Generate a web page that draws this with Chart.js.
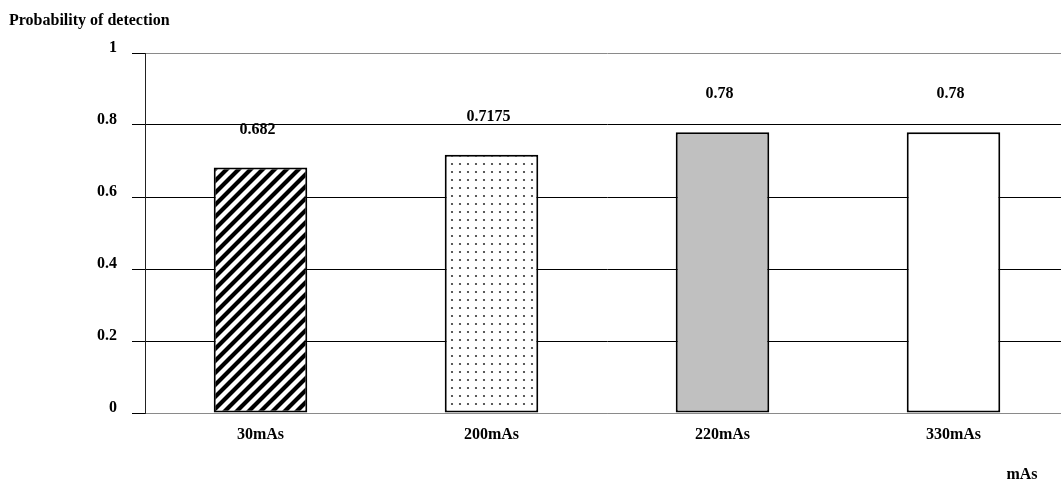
<!DOCTYPE html>
<html>
<head>
<meta charset="utf-8">
<script src="https://cdn.jsdelivr.net/npm/chart.js@4.4.1/dist/chart.umd.min.js"></script>
<style>
  html, body { margin: 0; padding: 0; background: #fff; overflow: hidden; }
  #wrap { width: 1070px; height: 483px; position: relative; }
</style>
</head>
<body>
<div id="wrap"><canvas id="c"></canvas></div>
<script>
// Detection probability per tube current-time product
const categories = ['30mAs', '200mAs', '220mAs', '330mAs'];
const detection = [0.682, 0.7175, 0.78, 0.78];
const valueLabels = ['0.682', '0.7175', '0.78', '0.78'];
const yTicks = [0, 0.2, 0.4, 0.6, 0.8, 1];
const yTitle = 'Probability of detection';
const xTitle = 'mAs';

const FONT = "'Liberation Serif', 'Times New Roman', serif";

// Diagonal "/" hatch fill
function hatchPattern() {
  const s = 12;
  const cv = document.createElement('canvas');
  cv.width = s; cv.height = s;
  const g = cv.getContext('2d');
  g.fillStyle = '#fff';
  g.fillRect(0, 0, s, s);
  g.strokeStyle = '#000';
  g.lineWidth = 4.2;
  g.beginPath();
  g.moveTo(-2, 2); g.lineTo(2, -2);
  g.moveTo(0, s); g.lineTo(s, 0);
  g.moveTo(s - 2, s + 2); g.lineTo(s + 2, s - 2);
  g.stroke();
  return g.createPattern(cv, 'repeat');
}

// Fine dotted fill
function dotPattern() {
  const s = 8;
  const cv = document.createElement('canvas');
  cv.width = s; cv.height = s;
  const g = cv.getContext('2d');
  g.fillStyle = '#fff';
  g.fillRect(0, 0, s, s);
  g.fillStyle = '#333';
  g.beginPath();
  g.arc(4, 4, 1.1, 0, Math.PI * 2);
  g.fill();
  return g.createPattern(cv, 'repeat');
}

const fills = [hatchPattern(), dotPattern(), '#c0c0c0', '#ffffff'];

// Titles and value labels
const textPlugin = {
  id: 'textPlugin',
  afterDatasetsDraw(chart) {
    const ctx = chart.ctx;
    const area = chart.chartArea;
    ctx.save();
    ctx.fillStyle = '#000';
    ctx.font = 'bold 16px ' + FONT;
    ctx.textBaseline = 'middle';

    ctx.textAlign = 'left';
    ctx.fillText(yTitle, 9, 21);

    ctx.textAlign = 'center';
    ctx.fillText(xTitle, area.right - 47, 475);

    const meta = chart.getDatasetMeta(0);
    meta.data.forEach((bar, i) => {
      ctx.fillText(valueLabels[i], bar.x - 3, bar.y - 38);
    });
    ctx.restore();
  }
};

new Chart(document.getElementById('c'), {
  type: 'bar',
  data: {
    labels: categories,
    datasets: [{
      data: detection,
      backgroundColor: fills,
      borderColor: '#000',
      borderWidth: 2,
      borderSkipped: false,
      barPercentage: 0.405,
      categoryPercentage: 1
    }]
  },
  options: {
    responsive: true,
    maintainAspectRatio: false,
    animation: false,
    devicePixelRatio: 1,
    layout: { padding: { top: 53, right: 1, bottom: 0, left: 0 } },
    plugins: {
      legend: { display: false },
      tooltip: { enabled: false },
      title: { display: false }
    },
    scales: {
      x: {
        afterFit(scale) { scale.height = 70; },
        grid: { display: false },
        border: { display: true, color: '#8a8a8a', width: 1 },
        ticks: {
          color: '#000',
          padding: 4,
          font: { family: FONT, size: 16, weight: 'bold' }
        }
      },
      y: {
        min: 0,
        max: 1,
        afterFit(scale) { scale.width = 145; },
        afterBuildTicks(scale) { scale.ticks = yTicks.map(v => ({ value: v })); },
        grid: {
          color: c => (c.tick && (c.tick.value === 0 || c.tick.value === 1)) ? '#8a8a8a' : '#000',
          lineWidth: 1,
          tickColor: '#000',
          tickLength: 13,
          drawTicks: true
        },
        border: { display: true, color: '#222', width: 1 },
        ticks: {
          color: '#000',
          padding: 15,
          labelOffset: -5,
          font: { family: FONT, size: 16, weight: 'bold' },
          callback: v => String(v)
        }
      }
    }
  },
  plugins: [textPlugin]
});
</script>
</body>
</html>
